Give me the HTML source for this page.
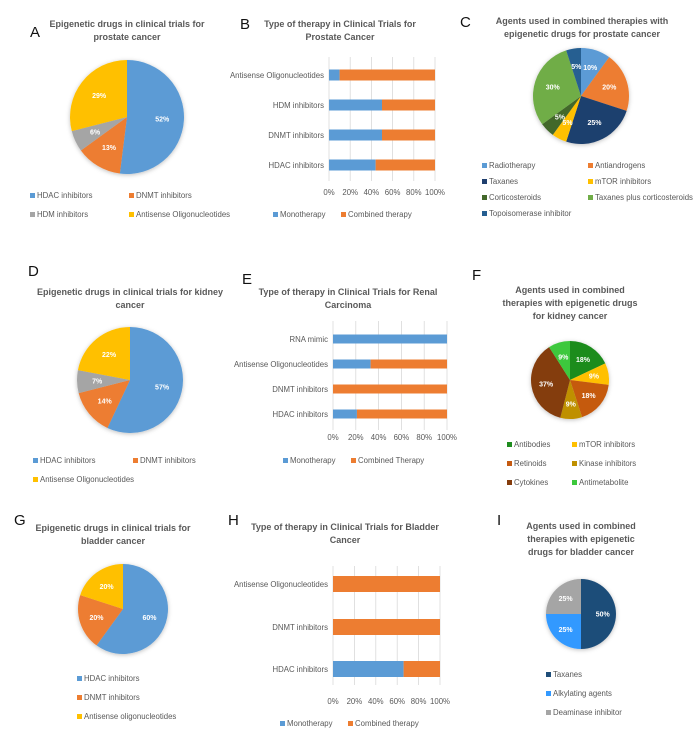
<!DOCTYPE html>
<html><head><meta charset="utf-8"><style>
body{margin:0;background:#fff;width:700px;height:740px;overflow:hidden;font-family:"Liberation Sans",sans-serif}
svg{position:absolute;left:0;top:0}
.t{font-weight:bold;fill:#595959;font-size:9px;text-anchor:middle}
.L{font-size:15px;fill:#111}
.lg{font-size:7.8px;fill:#595959}
.pl{font-size:7px;font-weight:bold;fill:#fff;text-anchor:middle}
.ax{font-size:7.8px;fill:#595959}
</style></head><body>
<svg id="s" width="700" height="740">
<defs><filter id="sh" x="-20%" y="-20%" width="140%" height="140%"><feDropShadow dx="0" dy="1" stdDeviation="2" flood-color="#000" flood-opacity="0.25"/></filter></defs>
<text class="L" x="30" y="37">A</text>
<text class="t" x="127" y="27"><tspan x="127">Epigenetic drugs in clinical trials for</tspan><tspan x="127" dy="13">prostate cancer</tspan></text>
<text class="L" x="240" y="29">B</text>
<text class="t" x="340" y="27"><tspan x="340">Type of therapy in Clinical Trials for</tspan><tspan x="340" dy="13">Prostate Cancer</tspan></text>
<text class="L" x="460" y="27">C</text>
<text class="t" x="582" y="24"><tspan x="582">Agents used in combined therapies with</tspan><tspan x="582" dy="13">epigenetic drugs for prostate cancer</tspan></text>
<text class="L" x="28" y="276">D</text>
<text class="t" x="130" y="295"><tspan x="130">Epigenetic drugs in clinical trials for kidney</tspan><tspan x="130" dy="13">cancer</tspan></text>
<text class="L" x="242" y="284">E</text>
<text class="t" x="348" y="295"><tspan x="348">Type of therapy in Clinical Trials for Renal</tspan><tspan x="348" dy="13">Carcinoma</tspan></text>
<text class="L" x="472" y="280">F</text>
<text class="t" x="570" y="293"><tspan x="570">Agents used in combined</tspan><tspan x="570" dy="13">therapies with epigenetic drugs</tspan><tspan x="570" dy="13">for kidney cancer</tspan></text>
<text class="L" x="14" y="525">G</text>
<text class="t" x="113" y="531"><tspan x="113">Epigenetic drugs in clinical trials for</tspan><tspan x="113" dy="13">bladder cancer</tspan></text>
<text class="L" x="228" y="525">H</text>
<text class="t" x="345" y="530"><tspan x="345">Type of therapy in Clinical Trials for Bladder</tspan><tspan x="345" dy="13">Cancer</tspan></text>
<text class="L" x="497" y="525">I</text>
<text class="t" x="581" y="529"><tspan x="581">Agents used in combined</tspan><tspan x="581" dy="13">therapies with epigenetic</tspan><tspan x="581" dy="13">drugs for bladder cancer</tspan></text>
</svg>
<script>
const NS='http://www.w3.org/2000/svg',S=document.getElementById('s');
// Pie data
const aLabels=['HDAC inhibitors','DNMT inhibitors','HDM inhibitors','Antisense Oligonucleotides'];
const aValues=[52,13,6,29];
const cLabels=['Radiotherapy','Antiandrogens','Taxanes','mTOR inhibitors','Corticosteroids','Taxanes plus corticosteroids','Topoisomerase inhibitor'];
const cValues=[10,20,25,5,5,30,5];
const dLabels=['HDAC inhibitors','DNMT inhibitors','HDM inhibitors','Antisense Oligonucleotides'];
const dValues=[57,14,7,22];
const fLabels=['Antibodies','mTOR inhibitors','Retinoids','Kinase inhibitors','Cytokines','Antimetabolite'];
const fValues=[18,9,18,9,37,9];
const gLabels=['HDAC inhibitors','DNMT inhibitors','Antisense oligonucleotides'];
const gValues=[60,20,20];
const iLabels=['Taxanes','Alkylating agents','Deaminase inhibitor'];
const iValues=[50,25,25];
// Bar data (monotherapy %, combined = 100 - mono)
const bCats=['HDAC inhibitors','DNMT inhibitors','HDM inhibitors','Antisense Oligonucleotides'];
const bMono=[44,50,50,10];
const eCats=['HDAC inhibitors','DNMT inhibitors','Antisense Oligonucleotides','RNA mimic'];
const eMono=[21,0,33,100];
const hCats=['HDAC inhibitors','DNMT inhibitors','Antisense Oligonucleotides'];
const hMono=[66,0,0];
const ticks=['0%','20%','40%','60%','80%','100%'];

function el(t,a,p){const e=document.createElementNS(NS,t);for(const k in a)e.setAttribute(k,a[k]);(p||S).appendChild(e);return e;}
function pie(id,cx,cy,r,vals,cols,legend,legendNames,legendIdx){
  const g=el('g',{filter:'url(#sh)'});
  
  
  const tot=vals.reduce((a,b)=>a+b,0);let a0=0;
  vals.forEach((v,i)=>{
    if(v<=0)return;
    const a1=a0+v/tot*2*Math.PI;
    const x0=cx+r*Math.sin(a0),y0=cy-r*Math.cos(a0),x1=cx+r*Math.sin(a1),y1=cy-r*Math.cos(a1);
    const p=el('path',{d:`M${cx},${cy}L${x0},${y0}A${r},${r} 0 ${a1-a0>Math.PI?1:0} 1 ${x1},${y1}Z`,fill:cols[i]},g);
    
    
    const m=(a0+a1)/2,lr=r*0.62;
    const t=el('text',{class:'pl',x:cx+lr*Math.sin(m),y:cy-lr*Math.cos(m)+2.5});
    t.textContent=Math.round(v/tot*100)+'%';
    
    
    a0=a1;
  });
  legend.forEach((pos,i)=>{
    const ci=legendIdx?legendIdx[i]:i;
    const r2=el('rect',{x:pos[0],y:pos[1]-5,width:5,height:5,fill:cols[ci]});
    
    
    const t=el('text',{class:'lg',x:pos[0]+7,y:pos[1]});
    t.textContent=legendNames[ci];
    
    
  });
}
function bars(id,x0,x1,ys,bh,cats,mono,tickY,legX,legY,combName){
  const sx=v=>x0+(x1-x0)*v/100;
  ticks.forEach((tk,i)=>{
    const x=sx(i*20);
    const l=el('line',{x1:x,x2:x,y1:ys[ys.length-1]-18,y2:ys[0]+16,stroke:'#d9d9d9','stroke-width':0.8});
    
    
    const t=el('text',{class:'ax',x:x,y:tickY,'text-anchor':'middle'});t.textContent=tk;
    
    
  });
  cats.forEach((c,i)=>{
    const y=ys[i];
    const t=el('text',{class:'ax',x:x0-5,y:y+3,'text-anchor':'end'});t.textContent=c;
    
    
    const b1=el('rect',{x:sx(0),y:y-bh/2,width:sx(mono[i])-sx(0),height:bh,fill:'#5b9bd5'});
    
    
    const b2=el('rect',{x:sx(mono[i]),y:y-bh/2,width:sx(100)-sx(mono[i]),height:bh,fill:'#ed7d31'});
    
    
  });
  [['#5b9bd5','Monotherapy',legX],['#ed7d31',combName,legX+68]].forEach((q,i)=>{
    const r=el('rect',{x:q[2],y:legY-5,width:5,height:5,fill:q[0]});
    
    
    const t=el('text',{class:'lg',x:q[2]+7,y:legY});t.textContent=q[1];
    
    
  });
}
pie('a',127,117,57,aValues,['#5b9bd5','#ed7d31','#a5a5a5','#ffc000'],[[30,198],[129,198],[30,217],[129,217]],aLabels);
pie('c',581,96,48,cValues,['#5b9bd5','#ed7d31','#1f3f6e','#ffc000','#43682b','#70ad47','#255e91'],[[482,168],[588,168],[482,184],[588,184],[482,200],[588,200],[482,216]],cLabels);
pie('d',130,380,53,dValues,['#5b9bd5','#ed7d31','#a5a5a5','#ffc000'],[[33,463],[133,463],[33,482]],dLabels,[0,1,3]);
pie('f',570,380,39,fValues,['#1e8c1e','#ffc000','#c55a11','#bf9000','#843c0c','#3cc83c'],[[507,447],[572,447],[507,466],[572,466],[507,485],[572,485]],fLabels);
pie('g',123,609,45,gValues,['#5b9bd5','#ed7d31','#ffc000'],[[77,681],[77,700],[77,719]],gLabels);
pie('i',581,614,35,iValues,['#1f4e79','#3399ff','#a5a5a5'],[[546,677],[546,696],[546,715]],iLabels);
bars('b',329,435,[165,135,105,75],11,bCats,bMono,195,273,217,'Combined therapy');
bars('e',333,447,[414,389,364,339],9,eCats,eMono,440,283,463,'Combined Therapy');
bars('h',333,440,[669,627,584],16,hCats,hMono,704,280,726,'Combined therapy');
</script>
</body></html>
